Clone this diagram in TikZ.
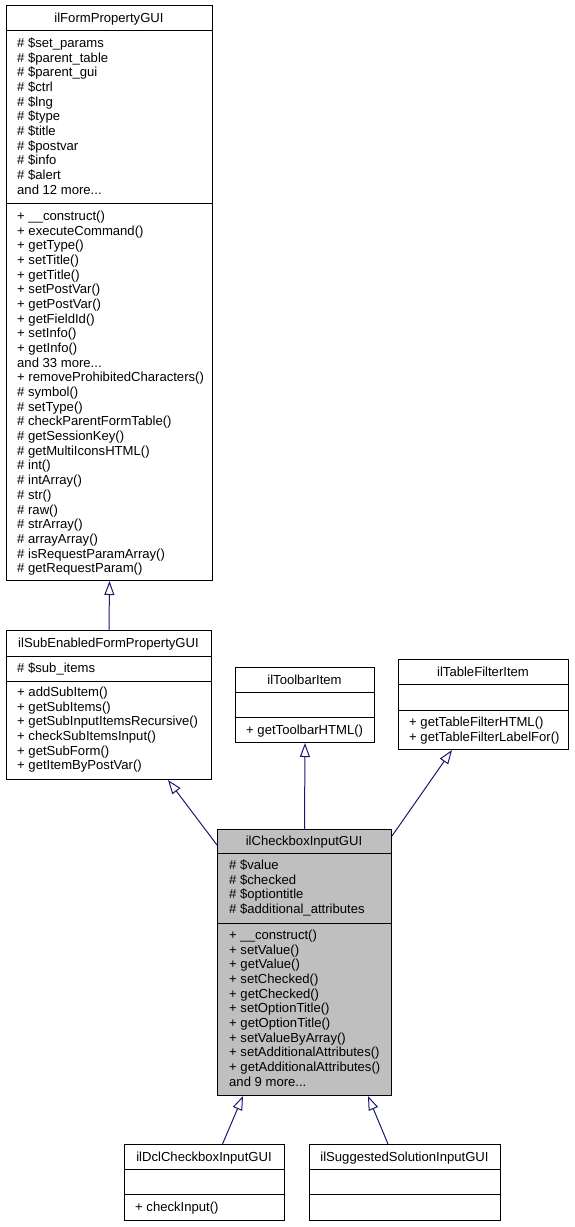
\documentclass[tikz,border=0pt]{standalone}
\usepackage{fontspec}
\setmainfont{Liberation Sans}
\usetikzlibrary{arrows.meta}
\definecolor{edgeblue}{RGB}{25,25,112}
\definecolor{focusgray}{RGB}{191,191,191}
\newcommand\moredots{...}
\tikzset{
  classbox/.style={draw=black,line width=1pt,anchor=north west,inner sep=0pt},
  sepline/.style={draw=black,line width=1pt},
  classname/.style={anchor=base,inner sep=0pt},
  member/.style={anchor=base west,inner sep=0pt},
  inherit/.style={draw=edgeblue,line width=1pt,-{Triangle[open,length=14pt,width=10pt]}}
}
\begin{document}
\begin{tikzpicture}[x=1pt,y=1pt,font=\fontsize{13.1}{14.67}\selectfont]
\useasboundingbox (0,0) rectangle (574,-1227);
% ilFormPropertyGUI
\node[classbox,minimum width=206pt,minimum height=575pt] (formprop) at (6,-5) {};
\draw[sepline] (6,-30) -- (212,-30) (6,-203) -- (212,-203);
\node[classname] (formprop-title) at (109,-22) {ilFormPropertyGUI};
\foreach \m [count=\i from 0] in {\# \$set\_params,\# \$parent\_table,\# \$parent\_gui,\# \$ctrl,\# \$lng,\# \$type,\# \$title,\# \$postvar,\# \$info,\# \$alert,and 12 more\moredots}
  \node[member] (formprop-a\i) at (17,-47.6-14.67*\i) {\m};
\foreach \m [count=\i from 0] in {+ \_\_construct(),+ executeCommand(),+ getType(),+ setTitle(),+ getTitle(),+ setPostVar(),+ getPostVar(),+ getFieldId(),+ setInfo(),+ getInfo(),and 33 more\moredots,+ removeProhibitedCharacters(),\# symbol(),\# setType(),\# checkParentFormTable(),\# getSessionKey(),\# getMultiIconsHTML(),\# int(),\# intArray(),\# str(),\# raw(),\# strArray(),\# arrayArray(),\# isRequestParamArray(),\# getRequestParam()}
  \node[member] (formprop-m\i) at (17,-220.6-14.67*\i) {\m};
% ilSubEnabledFormPropertyGUI
\node[classbox,minimum width=205pt,minimum height=149pt] (subenabled) at (6,-630) {};
\draw[sepline] (6,-656) -- (211,-656) (6,-681) -- (211,-681);
\node[classname] (subenabled-title) at (108.5,-647.6) {ilSubEnabledFormPropertyGUI};
\node[member] (subenabled-a0) at (17,-672.6) {\# \$sub\_items};
\foreach \m [count=\i from 0] in {+ addSubItem(),+ getSubItems(),+ getSubInputItemsRecursive(),+ checkSubItemsInput(),+ getSubForm(),+ getItemByPostVar()}
  \node[member] (subenabled-m\i) at (17,-696.6-14.67*\i) {\m};
% ilToolbarItem
\node[classbox,minimum width=139pt,minimum height=75pt] (toolbar) at (235,-667) {};
\draw[sepline] (235,-692) -- (374,-692) (235,-717) -- (374,-717);
\node[classname] (toolbar-title) at (304.5,-684.3) {ilToolbarItem};
\node[member] (toolbar-m0) at (246,-734.2) {+ getToolbarHTML()};
% ilTableFilterItem
\node[classbox,minimum width=170pt,minimum height=90pt] (tablefilter) at (398,-659) {};
\draw[sepline] (398,-684) -- (568,-684) (398,-710) -- (568,-710);
\node[classname] (tablefilter-title) at (483,-676.1) {ilTableFilterItem};
\node[member] (tablefilter-m0) at (409,-726.6) {+ getTableFilterHTML()};
\node[member] (tablefilter-m1) at (409,-741.3) {+ getTableFilterLabelFor()};
% ilCheckboxInputGUI
\node[classbox,fill=focusgray,minimum width=174pt,minimum height=266pt] (checkbox) at (217,-829) {};
\draw[sepline] (217,-853) -- (391,-853) (217,-923) -- (391,-923);
\node[classname] (checkbox-title) at (304,-845.6) {ilCheckboxInputGUI};
\foreach \m [count=\i from 0] in {\# \$value,\# \$checked,\# \$optiontitle,\# \$additional\_attributes}
  \node[member] (checkbox-a\i) at (229,-869.6-14.67*\i) {\m};
\foreach \m [count=\i from 0] in {+ \_\_construct(),+ setValue(),+ getValue(),+ setChecked(),+ getChecked(),+ setOptionTitle(),+ getOptionTitle(),+ setValueByArray(),+ setAdditionalAttributes(),+ getAdditionalAttributes(),and 9 more\moredots}
  \node[member] (checkbox-m\i) at (229,-939.6-14.67*\i) {\m};
% ilDclCheckboxInputGUI
\node[classbox,minimum width=160pt,minimum height=76pt] (dclcheckbox) at (124,-1144) {};
\draw[sepline] (124,-1169) -- (284,-1169) (124,-1194) -- (284,-1194);
\node[classname] (dclcheckbox-title) at (204,-1161.3) {ilDclCheckboxInputGUI};
\node[member] (dclcheckbox-m0) at (135,-1211.6) {+ checkInput()};
% ilSuggestedSolutionInputGUI
\node[classbox,minimum width=191pt,minimum height=76pt] (suggested) at (309,-1144) {};
\draw[sepline] (309,-1169) -- (500,-1169) (309,-1194) -- (500,-1194);
\node[classname] (suggested-title) at (404.5,-1161.3) {ilSuggestedSolutionInputGUI};
% inheritance
\draw[inherit] (subenabled.north) -- (formprop.south);
\draw[inherit] ([yshift=-16pt]checkbox.north west) -- ([xshift=-44pt]subenabled.south east);
\draw[inherit] (checkbox.north) -- (toolbar.south);
\draw[inherit] ([yshift=-7pt]checkbox.north east) -- ([xshift=54pt]tablefilter.south west);
\draw[inherit] ([xshift=18pt]dclcheckbox.north) -- ([xshift=26pt]checkbox.south west);
\draw[inherit] ([xshift=-17pt]suggested.north) -- ([xshift=-24pt]checkbox.south east);
\end{tikzpicture}
\end{document}
